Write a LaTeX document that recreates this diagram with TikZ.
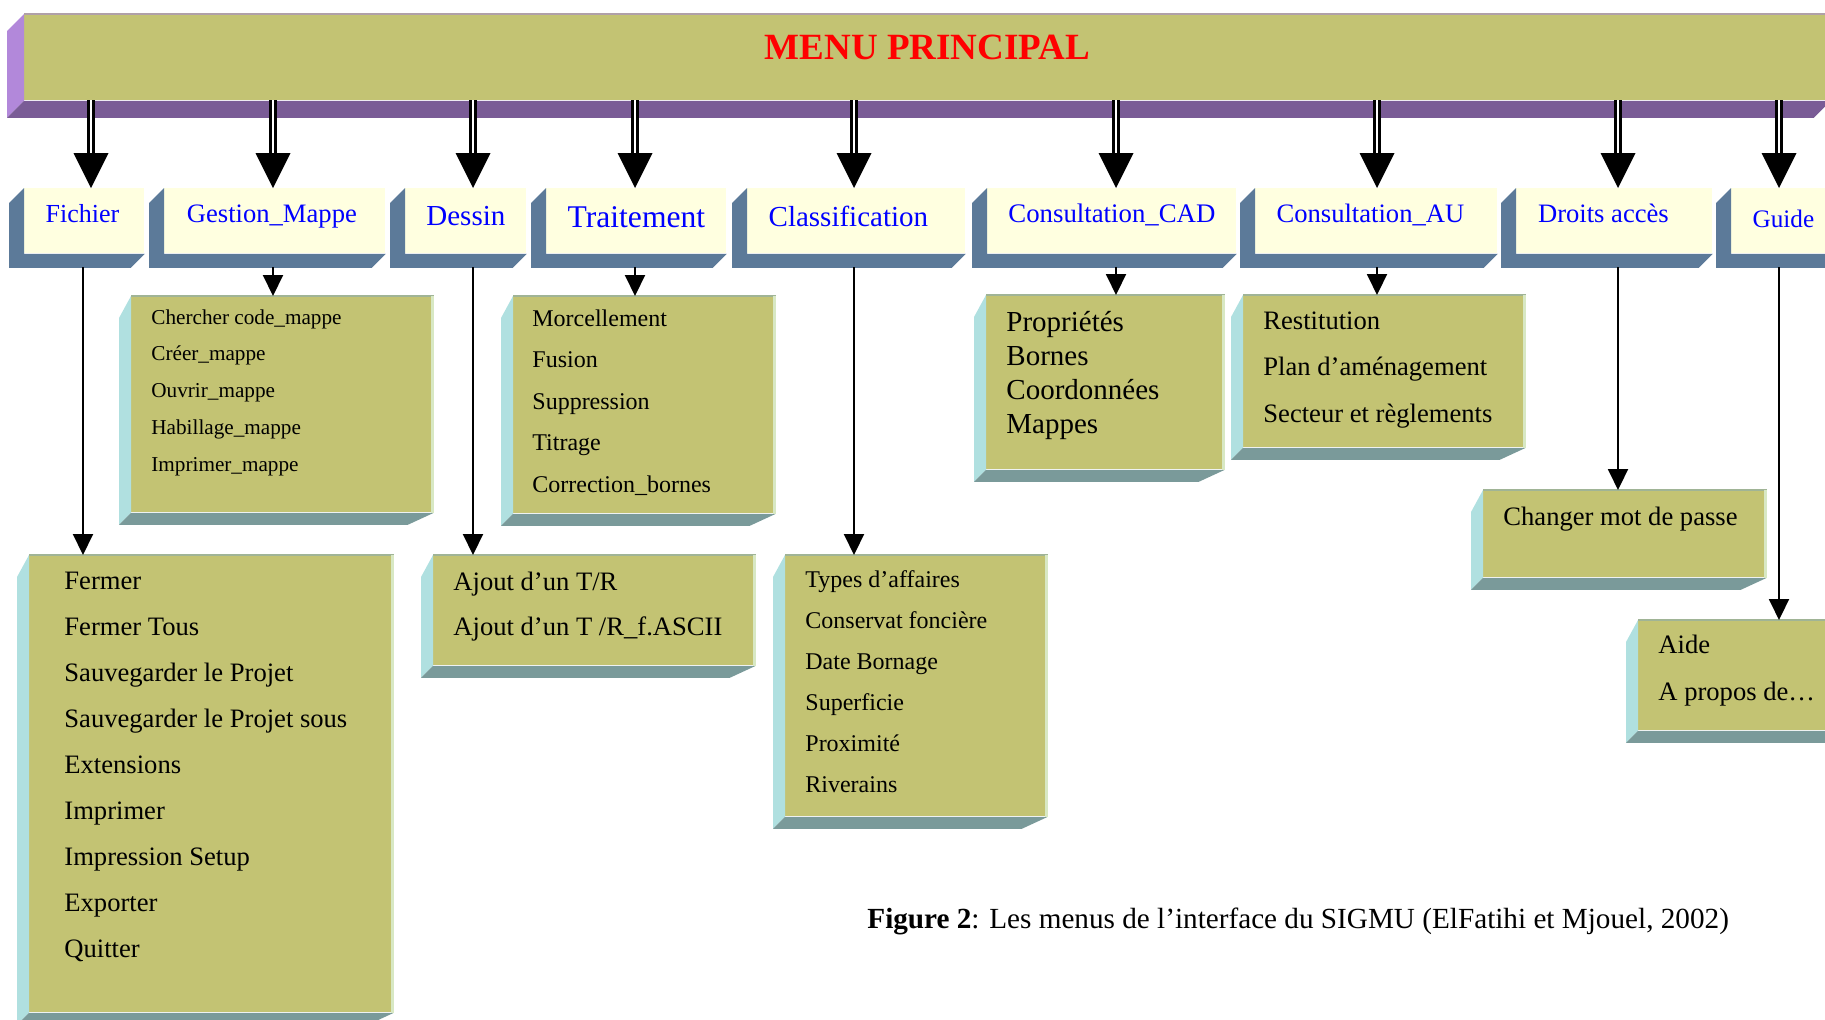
\documentclass[tikz,border=0pt]{standalone}
\usepackage{fontspec}
\setmainfont{Liberation Serif}
\usetikzlibrary{arrows.meta,calc}
\definecolor{cOlive}{RGB}{195,195,115}
\definecolor{cBarSide}{RGB}{178,136,218}
\definecolor{cBarBot}{RGB}{122,92,150}
\definecolor{cBarEdge}{RGB}{176,160,168}
\definecolor{cHfront}{RGB}{255,255,224}
\definecolor{cHside}{RGB}{92,122,153}
\definecolor{cSside}{RGB}{176,224,224}
\definecolor{cSbot}{RGB}{122,154,154}
\definecolor{cStop}{RGB}{160,180,150}
\definecolor{cSright}{RGB}{216,232,196}
\definecolor{cBlue}{RGB}{0,0,255}
\definecolor{cRed}{RGB}{255,0,0}
\newcommand\hbev[1]{\fill[cHside] (#1.north west) -- ++(-15,15) -- ($(#1.south west)+(-15,14)$) -- ($(#1.south east)+(-14,14)$) -- (#1.south east) -- (#1.south west) -- cycle;}
\newcommand\sbev[1]{%
  \fill[cSside] (#1.north west) -- ++(-12,22) -- ($(#1.south west)+(-12,12)$) -- (#1.south west) -- cycle;
  \fill[cSbot] ($(#1.south west)+(-12,12)$) -- (#1.south west) -- (#1.south east) -- ($(#1.south east)+(-26,12)$) -- cycle;
  \draw[cStop, line width=1pt] (#1.north west) -- (#1.north east);
  \draw[cSright, line width=1.2pt] ([xshift=-0.6pt]#1.north east) -- ([xshift=-0.6pt]#1.south east);}
\newcommand\menuitems[6]{%
  \foreach \t [count=\i from 0] in {#6}
    \node[itemtext, font=\fontsize{#5}{#5}\selectfont] (#1-\i) at (#2, {#3+#4*\i}) {\t};}
\newcommand\bigarrow[2]{%
  \draw[dbl] (#1) -- ++(0,55);
  \fill (#1 |- #2.north) -- ++(-17.5,-35) -- ++(35,0) -- cycle;}
\begin{document}
\begin{tikzpicture}[x=0.5pt,y=-0.5pt,
  bar/.style={fill=cOlive, inner sep=0pt, anchor=north west, text=cRed,
    font=\bfseries\fontsize{18.5}{18.5}\selectfont},
  hbox/.style={fill=cHfront, inner sep=0pt, minimum height=0pt, text=cBlue, anchor=north west},
  sbox/.style={fill=cOlive, inner sep=0pt, anchor=north west},
  itemtext/.style={anchor=base west, inner sep=0pt, text=black},
  dbl/.style={double=white, double distance=1.1pt, line width=1.3pt, black},
  sarr/.style={line width=1pt, black, -{Triangle[width=10pt,length=10.5pt]}}
]
\useasboundingbox (0,0) rectangle (1825,1019);
\clip (0,0) rectangle (1825,1019);

% ---- main bar
\node[bar, minimum width=903pt, text height=22.5pt, text depth=20.5pt] (bar) at (24,14) {MENU PRINCIPAL};
\fill[cBarSide] (bar.north west) -- ++(-17,17) -- ($(bar.south west)+(-17,17)$) -- (bar.south west) -- cycle;
\fill[cBarBot] ($(bar.south west)+(-17,17)$) -- (bar.south west) -- (bar.south east) -- ($(bar.south east)+(-17,17)$) -- cycle;
\draw[cBarEdge, line width=1pt] (bar.north west) -- (bar.north east);

% ---- headers
\node[hbox, minimum width=60pt, text height=17pt, text depth=15.5pt, font=\fontsize{13}{13}\selectfont] (hF) at (24,188) {Fichier\hspace*{2pt}};
\node[hbox, minimum width=110.5pt, text height=17pt, text depth=15.5pt, font=\fontsize{13.3}{13.3}\selectfont] (hG) at (164,188) {Gestion\_Mappe\hspace*{3pt}};
\node[hbox, minimum width=60.5pt, text height=18.5pt, text depth=14pt, font=\fontsize{14.5}{14.5}\selectfont] (hD) at (405,188) {Dessin};
\node[hbox, minimum width=90pt, text height=19.5pt, text depth=13pt, font=\fontsize{15.8}{15.8}\selectfont] (hT) at (546,188) {Traitement};
\node[hbox, minimum width=109pt, text height=19pt, text depth=13.5pt, font=\fontsize{14.5}{14.5}\selectfont] (hC) at (747,188) {Classification\hspace*{8pt}};
\node[hbox, minimum width=124.5pt, text height=17pt, text depth=15.5pt, font=\fontsize{13.4}{13.4}\selectfont] (hCAD) at (987,188) {Consultation\_CAD};
\node[hbox, minimum width=121pt, text height=17pt, text depth=15.5pt, font=\fontsize{13.3}{13.3}\selectfont] (hAU) at (1255,188) {Consultation\_AU\hspace*{6pt}};
\node[hbox, minimum width=98pt, text height=17pt, text depth=15.5pt, font=\fontsize{13.3}{13.3}\selectfont] (hDr) at (1516,188) {Droits accès\hspace*{11pt}};
\node[hbox, minimum width=57pt, text height=19.5pt, text depth=13pt, font=\fontsize{12.6}{12.6}\selectfont] (hGu) at (1731,188) {Guide\hspace*{5pt}};
\foreach \h in {hF,hG,hD,hT,hC,hCAD,hAU,hDr,hGu} {\hbev{\h}}

% ---- double arrows from the main bar
\coordinate (d1) at (91,100);
\coordinate (d2) at (273,100);
\coordinate (d3) at (473,100);
\coordinate (d4) at (635,100);
\coordinate (d5) at (854,100);
\coordinate (d6) at (1116,100);
\coordinate (d7) at (1377,100);
\coordinate (d8) at (1618,100);
\coordinate (d9) at (1779,100);
\bigarrow{d1}{hF}
\bigarrow{d2}{hG}
\bigarrow{d3}{hD}
\bigarrow{d4}{hT}
\bigarrow{d5}{hC}
\bigarrow{d6}{hCAD}
\bigarrow{d7}{hAU}
\bigarrow{d8}{hDr}
\bigarrow{d9}{hGu}

% ---- submenu boxes
\node[sbox, minimum width=182pt, minimum height=228.5pt] (sF) at (29,555) {};
\node[sbox, minimum width=151pt, minimum height=108pt] (sG) at (131,296) {};
\node[sbox, minimum width=161pt, minimum height=55pt] (sD) at (433,555) {};
\node[sbox, minimum width=131pt, minimum height=108.5pt] (sT) at (513,296) {};
\node[sbox, minimum width=131pt, minimum height=130.5pt] (sC) at (785,555) {};
\node[sbox, minimum width=119pt, minimum height=87pt] (sCAD) at (986,295) {};
\node[sbox, minimum width=141pt, minimum height=76pt] (sAU) at (1243,295) {};
\node[sbox, minimum width=141.5pt, minimum height=43.5pt] (sDr) at (1483,490) {};
\node[sbox, minimum width=106pt, minimum height=55pt] (sGu) at (1638,620) {};
\foreach \s in {sF,sG,sD,sT,sC,sCAD,sAU,sDr,sGu} {\sbev{\s}}

% ---- submenu items
\menuitems{iF}{64}{589}{46.1}{13.3}{Fermer,Fermer Tous,Sauvegarder le Projet,Sauvegarder le Projet sous,Extensions,Imprimer,Impression Setup,Exporter,Quitter}
\menuitems{iG}{151}{324}{36.8}{10.6}{Chercher code\_mappe,Créer\_mappe,Ouvrir\_mappe,Habillage\_mappe,Imprimer\_mappe}
\menuitems{iD}{453}{590}{45}{13.3}{Ajout d’un T/R,Ajout d’un T /R\_f.ASCII}
\menuitems{iT}{532}{326}{41.5}{12}{Morcellement,Fusion,Suppression,Titrage,Correction\_bornes}
\menuitems{iC}{805}{587}{41}{12}{Types d’affaires,Conservat foncière,Date Bornage,Superficie,Proximité,Riverains}
\menuitems{iCAD}{1006}{331}{34}{14.5}{Propriétés,Bornes,Coordonnées,Mappes}
\menuitems{iAU}{1263}{329}{46.5}{13.3}{Restitution,Plan d’aménagement,Secteur et règlements}
\menuitems{iDr}{1503}{525}{0}{13.3}{Changer mot de passe}
\menuitems{iGu}{1658}{653}{47}{13.3}{Aide,A propos de…}

% ---- single arrows from headers to submenus
\coordinate (c1) at (83,267);
\coordinate (c2) at (273,267);
\coordinate (c3) at (473,267);
\coordinate (c4) at (635,267);
\coordinate (c5) at (854,267);
\coordinate (c6) at (1116,267);
\coordinate (c7) at (1377,267);
\coordinate (c8) at (1618,267);
\coordinate (c9) at (1779,267);
\draw[sarr] (c1) -- (c1 |- sF.north);
\draw[sarr] (c2) -- (c2 |- sG.north);
\draw[sarr] (c3) -- (c3 |- sD.north);
\draw[sarr] (c4) -- (c4 |- sT.north);
\draw[sarr] (c5) -- (c5 |- sC.north);
\draw[sarr] (c6) -- (c6 |- sCAD.north);
\draw[sarr] (c7) -- (c7 |- sAU.north);
\draw[sarr] (c8) -- (c8 |- sDr.north);
\draw[sarr] (c9) -- (c9 |- sGu.north);

% ---- caption
\node[anchor=base west, inner sep=0pt, font=\fontsize{14.6}{14.6}\selectfont] (cap) at (867,928) {\textbf{Figure 2}: Les menus de l’interface du SIGMU (ElFatihi et Mjouel, 2002)};
\end{tikzpicture}
\end{document}
